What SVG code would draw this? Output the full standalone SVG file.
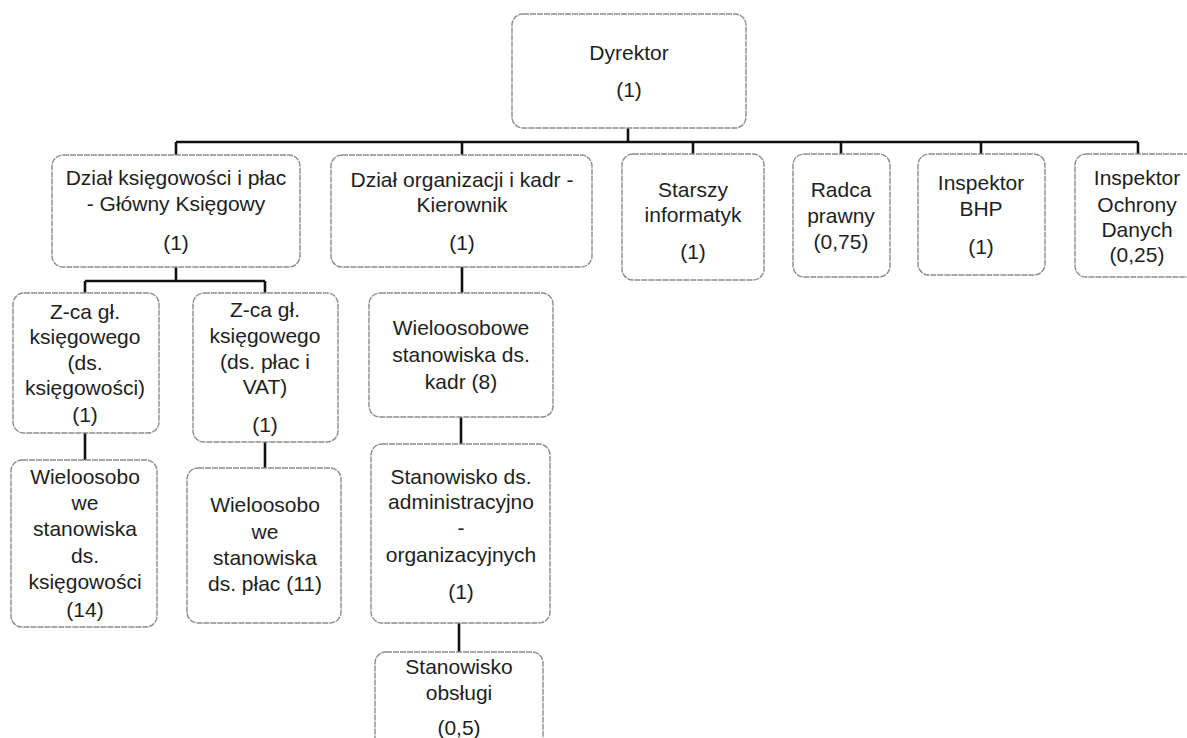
<svg xmlns="http://www.w3.org/2000/svg" width="1187" height="738" viewBox="0 0 1187 738">
<style>
.box{fill:#fff;stroke:#8c8c8c;stroke-width:1.4;stroke-dasharray:6 1}
text{font-family:"Liberation Sans",Arial,sans-serif;font-size:21px;fill:#1e1e1e;text-anchor:middle}
.c{fill:none;stroke:#111;stroke-width:2.6}
</style>
<rect width="1187" height="738" fill="#fff"/>
<g id="connectors">
<path class="c" d="M628 128V142M176 142H1138M176 142V155M462 142V155M693 142V154M841 142V154M981 142V154M1138 142V154"/>
<path class="c" d="M176 267V281M85 281H265M85 281V293M265 281V293M85 433V460M265 442V468"/>
<path class="c" d="M462 267V293M461 417V444M459 623V652"/>
</g>
<g id="dyrektor"><rect class="box" x="512" y="14" width="234" height="114" rx="11"/><text x="629" y="60">Dyrektor</text><text x="629" y="97">(1)</text></g>
<g id="ksiegowosc"><rect class="box" x="52" y="155" width="248" height="112" rx="11"/><text x="176" y="185">Dział księgowości i płac</text><text x="176" y="211">- Główny Księgowy</text><text x="176" y="250">(1)</text></g>
<g id="kadry"><rect class="box" x="331" y="155" width="261" height="112" rx="11"/><text x="462" y="187">Dział organizacji i kadr -</text><text x="462" y="212">Kierownik</text><text x="462" y="250">(1)</text></g>
<g id="informatyk"><rect class="box" x="622" y="154" width="142" height="126" rx="11"/><text x="693" y="197">Starszy</text><text x="693" y="222">informatyk</text><text x="693" y="259">(1)</text></g>
<g id="radca"><rect class="box" x="793" y="154" width="97" height="123" rx="11"/><text x="841" y="197">Radca</text><text x="841" y="223">prawny</text><text x="841" y="249">(0,75)</text></g>
<g id="bhp"><rect class="box" x="918" y="154" width="127" height="121" rx="11"/><text x="981" y="190">Inspektor</text><text x="981" y="216">BHP</text><text x="981" y="254">(1)</text></g>
<g id="iod"><rect class="box" x="1075" y="154" width="130" height="123" rx="11"/><text x="1137" y="185">Inspektor</text><text x="1137" y="212">Ochrony</text><text x="1137" y="237">Danych</text><text x="1137" y="262">(0,25)</text></g>
<g id="zca1"><rect class="box" x="13" y="293" width="146" height="140" rx="11"/><text x="85" y="319">Z-ca gł.</text><text x="85" y="344">księgowego</text><text x="85" y="370">(ds.</text><text x="85" y="395">księgowości)</text><text x="85" y="422">(1)</text></g>
<g id="wielo1"><rect class="box" x="11" y="460" width="146" height="167" rx="11"/><text x="85" y="484">Wieloosobo</text><text x="85" y="510">we</text><text x="85" y="536">stanowiska</text><text x="85" y="563">ds.</text><text x="85" y="589">księgowości</text><text x="85" y="617">(14)</text></g>
<g id="zca2"><rect class="box" x="193" y="293" width="145" height="149" rx="11"/><text x="265" y="317">Z-ca gł.</text><text x="265" y="343">księgowego</text><text x="265" y="369">(ds. płac i</text><text x="265" y="394">VAT)</text><text x="265" y="432">(1)</text></g>
<g id="wielo2"><rect class="box" x="187" y="468" width="154" height="155" rx="11"/><text x="265" y="512">Wieloosobo</text><text x="265" y="539">we</text><text x="265" y="565">stanowiska</text><text x="265" y="591">ds. płac (11)</text></g>
<g id="wielokadr"><rect class="box" x="369" y="293" width="184" height="124" rx="11"/><text x="461" y="335">Wieloosobowe</text><text x="461" y="362">stanowiska ds.</text><text x="461" y="389">kadr (8)</text></g>
<g id="admin"><rect class="box" x="371" y="444" width="179" height="179" rx="11"/><text x="461" y="484">Stanowisko ds.</text><text x="461" y="509">administracyjno</text><text x="461" y="535">-</text><text x="461" y="562">organizacyjnych</text><text x="461" y="599">(1)</text></g>
<g id="obsluga"><rect class="box" x="375" y="652" width="168" height="110" rx="11"/><text x="459" y="674">Stanowisko</text><text x="459" y="700">obsługi</text><text x="459" y="735">(0,5)</text></g>
</svg>
